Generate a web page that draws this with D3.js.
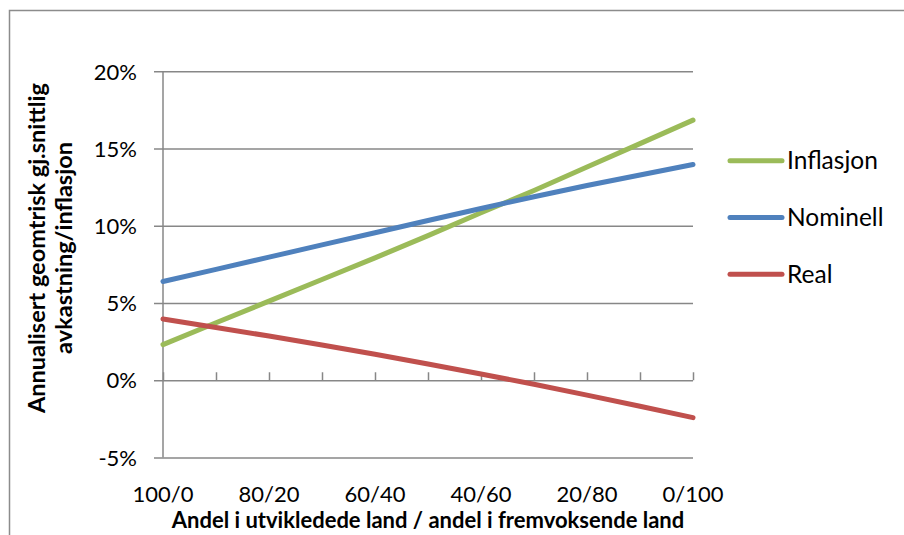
<!DOCTYPE html>
<html>
<head>
<meta charset="utf-8">
<script src="https://cdn.jsdelivr.net/npm/d3@7/dist/d3.min.js"></script>
<style>
  html, body { margin: 0; padding: 0; background: #ffffff; }
  svg { display: block; }
  text { font-family: Lato, "Open Sans", sans-serif; fill: #000; }
</style>
</head>
<body>
<svg id="chart" width="904" height="535"></svg>
<script>
// Portfolio mix: share in developed markets / share in emerging markets
const categories = ["100/0", "90/10", "80/20", "70/30", "60/40", "50/50",
                    "40/60", "30/70", "20/80", "10/90", "0/100"];
const shownLabels = ["100/0", "80/20", "60/40", "40/60", "20/80", "0/100"];

// Annualised geometric average, percent
const inflasjon = [2.31, 3.72, 5.12, 6.52, 7.92, 9.36, 10.84, 12.28, 13.80, 15.32, 16.84];
const nominell  = [6.39, 7.18, 7.97, 8.76, 9.55, 10.34, 11.12, 11.88, 12.61, 13.29, 13.97];
const real      = [3.97, 3.42, 2.86, 2.28, 1.68, 1.05, 0.40, -0.26, -0.96, -1.68, -2.42];

const yTicks = [-5, 0, 5, 10, 15, 20];

const seriesNames = ["Inflasjon", "Nominell", "Real"];
const seriesValues = [inflasjon, nominell, real];
const seriesColors = ["#9BBB59", "#4F81BD", "#C0504D"];

const svg = d3.select("#chart");

// outer chart frame (runs past the right and bottom edges)
svg.append("rect")
  .attr("x", 9.5).attr("y", 10.5)
  .attr("width", 1200).attr("height", 1200)
  .attr("fill", "none").attr("stroke", "#8c8c8c").attr("stroke-width", 1.5);

const x = d3.scalePoint().domain(categories).range([163, 693]);
const y = d3.scaleLinear().domain([-5, 20]).range([457.5, 71.3]);

const gridColor = "#878787";

// horizontal gridlines with outward ticks on the left
const yAxis = d3.axisLeft(y)
  .tickValues(yTicks)
  .tickSize(-(693 - 154))
  .tickFormat(d => d + "%");

const gy = svg.append("g")
  .attr("transform", "translate(154,0)")
  .call(yAxis);
gy.select(".domain").remove();
gy.selectAll(".tick line")
  .attr("x1", 0).attr("x2", 693 - 154)
  .attr("stroke", gridColor).attr("stroke-width", 1.5);
gy.selectAll(".tick text")
  .attr("x", -17)
  .attr("dy", "0.35em")
  .style("font-size", "22px")
  .style("font-family", "Lato, sans-serif")
  .attr("fill", "#000");

// vertical value axis line
svg.append("line")
  .attr("x1", x(categories[0])).attr("x2", x(categories[0]))
  .attr("y1", y(20)).attr("y2", y(-5))
  .attr("stroke", gridColor).attr("stroke-width", 1.5);

// category axis at 0% with inward tick marks
const xAxis = d3.axisTop(x).tickSize(8).tickFormat("");
const gx = svg.append("g")
  .attr("transform", `translate(0,${y(0)})`)
  .call(xAxis);
gx.select(".domain").remove();
gx.selectAll(".tick line").attr("stroke", gridColor).attr("stroke-width", 1.5);

// category labels below the plot
svg.append("g").selectAll("text")
  .data(shownLabels)
  .join("text")
  .attr("x", d => x(d))
  .attr("y", 502)
  .attr("text-anchor", "middle")
  .style("font-size", "22px")
  .text(d => d);

// axis titles
svg.append("text")
  .attr("x", (x(categories[0]) + x(categories[categories.length - 1])) / 2)
  .attr("y", 528)
  .attr("text-anchor", "middle")
  .style("font-size", "22px")
  .style("font-weight", "bold")
  .text("Andel i utvikledede land / andel i fremvoksende land");

const yTitle = svg.append("text")
  .attr("transform", "translate(0,248) rotate(-90)")
  .attr("text-anchor", "middle")
  .style("font-size", "23.5px")
  .style("font-weight", "bold");
yTitle.append("tspan").attr("x", 0).attr("y", 45).text("Annualisert geomtrisk gj.snittlig");
yTitle.append("tspan").attr("x", 0).attr("y", 72).text("avkastning/inflasjon");

// series lines
const line = d3.line()
  .x((d, i) => x(categories[i]))
  .y(d => y(d));

svg.append("g").selectAll("path")
  .data(seriesValues)
  .join("path")
  .attr("d", d => line(d))
  .attr("fill", "none")
  .attr("stroke", (d, i) => seriesColors[i])
  .attr("stroke-width", 5)
  .attr("stroke-linecap", "round")
  .attr("stroke-linejoin", "round");

// legend
const legend = svg.append("g").selectAll("g")
  .data(seriesNames)
  .join("g")
  .attr("transform", (d, i) => `translate(0,${160.7 + i * 56.8})`);
legend.append("line")
  .attr("x1", 730).attr("x2", 782)
  .attr("y1", 0).attr("y2", 0)
  .attr("stroke", (d, i) => seriesColors[i])
  .attr("stroke-width", 5)
  .attr("stroke-linecap", "round");
legend.append("text")
  .attr("x", 787)
  .attr("y", 0)
  .attr("dy", "0.35em")
  .style("font-size", "24.5px")
  .text(d => d);
</script>
</body>
</html>
